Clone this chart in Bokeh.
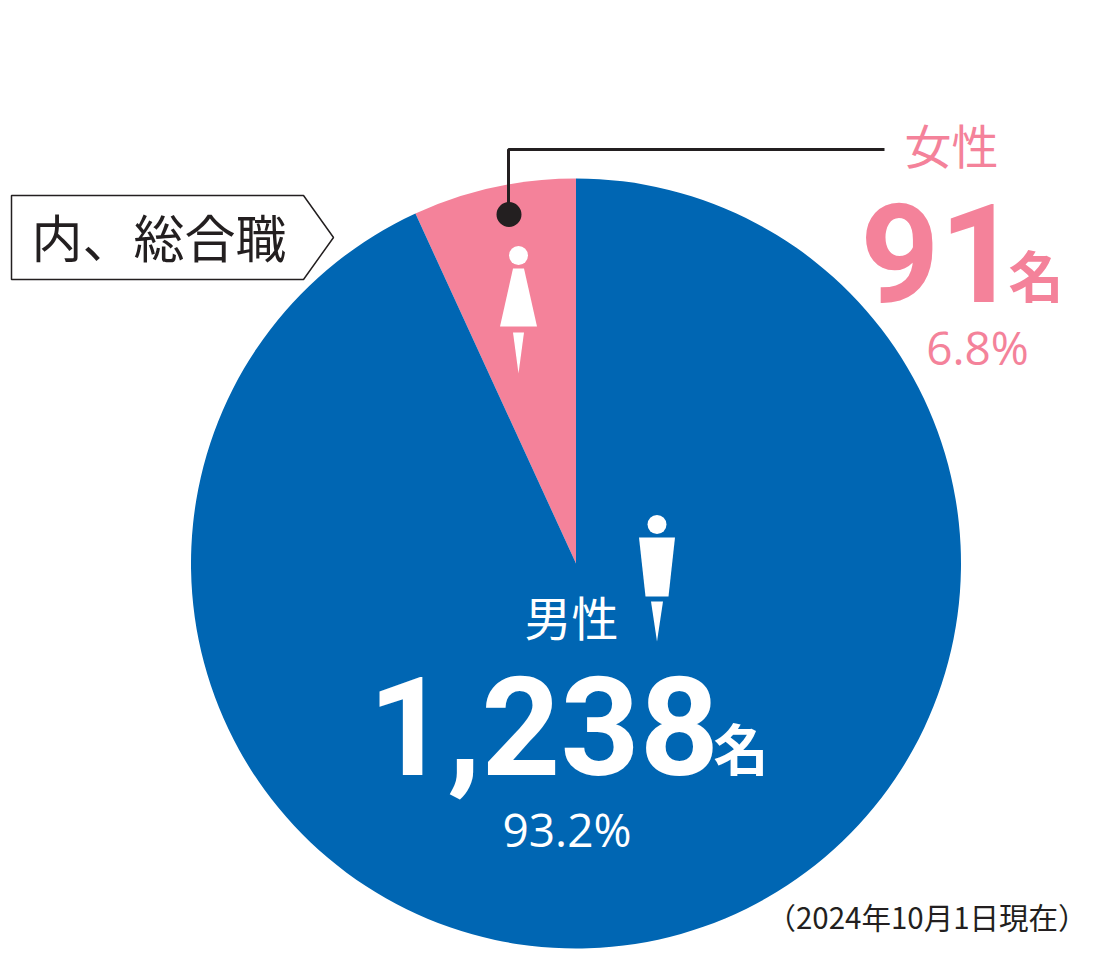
from bokeh.plotting import figure
from bokeh.models import Range1d
from bokeh.core.properties import value
from bokeh.embed import file_html
from bokeh.resources import INLINE
import math

categories = ["女性", "男性"]
counts = [91, 1238]
count_labels = ["91", "1,238"]
percent_labels = ["6.8%", "93.2%"]
unit_label = "名"
scope_label = "内、総合職"
date_label = "（2024年10月1日現在）"

PINK = "#F4829A"
BLUE = "#0066B3"
INK = "#231F20"
JP = "Noto Sans CJK JP"
H = 958
SHIFT = {JP: 0.45, "Roboto": 0.34, "Open Sans": 0.40}


def Y(py):
    return H - py


p = figure(width=1102, height=958, output_backend="svg", toolbar_location=None,
           x_range=Range1d(0, 1102), y_range=Range1d(0, 958),
           min_border=0, outline_line_color=None, background_fill_color="white")
p.axis.visible = False
p.grid.visible = False

cx, cy, r = 575.5, Y(563), 385
total = sum(counts)
a0 = math.pi / 2
a1 = a0 + 2 * math.pi * counts[0] / total
p.wedge(x=cx, y=cy, radius=r, start_angle=a0, end_angle=a1, fill_color=PINK, line_color=None)
p.wedge(x=cx, y=cy, radius=r, start_angle=a1, end_angle=a0 + 2 * math.pi, fill_color=BLUE, line_color=None)

# scope tag
p.patch(x=[11, 303, 333, 303, 11], y=[Y(195), Y(195), Y(237), Y(279), Y(279)],
        fill_color="white", line_color=INK, line_width=1.5)


def txt(x, py, s, size, color, font=JP, align="left", style="normal"):
    p.text(x=[x], y=[Y(py - SHIFT[font] * size)], text=[s], text_font=value(font), text_font_size=f"{size}px",
           text_color=color, text_align=align, text_baseline="alphabetic", text_font_style=style)


txt(31, 258, scope_label, 51, INK)

# leader
p.line(x=[884, 508, 508], y=[Y(149), Y(149), Y(214)], line_color=INK, line_width=3)
p.circle(x=[508.5], y=[Y(214)], radius=12.5, fill_color=INK, line_color=None)


def person(x, head, r_head, top, bottom, top_hw, bottom_hw, leg_top, leg_hw, tip):
    p.circle(x=[x], y=[Y(head)], radius=r_head, fill_color="white", line_color=None)
    p.patch(x=[x - top_hw, x + top_hw, x + bottom_hw, x - bottom_hw],
            y=[Y(top), Y(top), Y(bottom), Y(bottom)], fill_color="white", line_color=None)
    p.patch(x=[x - leg_hw, x + leg_hw, x], y=[Y(leg_top), Y(leg_top), Y(tip)],
            fill_color="white", line_color=None)


person(518, 255, 9.5, 268, 326, 5.5, 18.5, 332, 5.5, 373)
person(656.5, 524, 9.5, 537, 596, 18, 11.5, 601, 6, 641)

# female
txt(951, 164, categories[0], 47, PINK, align="center")
txt(939, 299, count_labels[0], 138, PINK, font="Roboto", align="center", style="bold")
txt(1008, 297, unit_label, 55, PINK, style="bold")
txt(977, 365, percent_labels[0], 46, PINK, font="Open Sans", align="center")

# male
txt(571, 636, categories[1], 47, "white", align="center")
txt(543, 772, count_labels[1], 138, "white", font="Roboto", align="center", style="bold")
txt(713, 770, unit_label, 55, "white", style="bold")
txt(566.5, 847, percent_labels[1], 46, "white", font="Open Sans", align="center")

# date
txt(1087, 929, date_label, 29.5, INK, align="right")

open("out.html", "w").write(file_html(p, INLINE))
